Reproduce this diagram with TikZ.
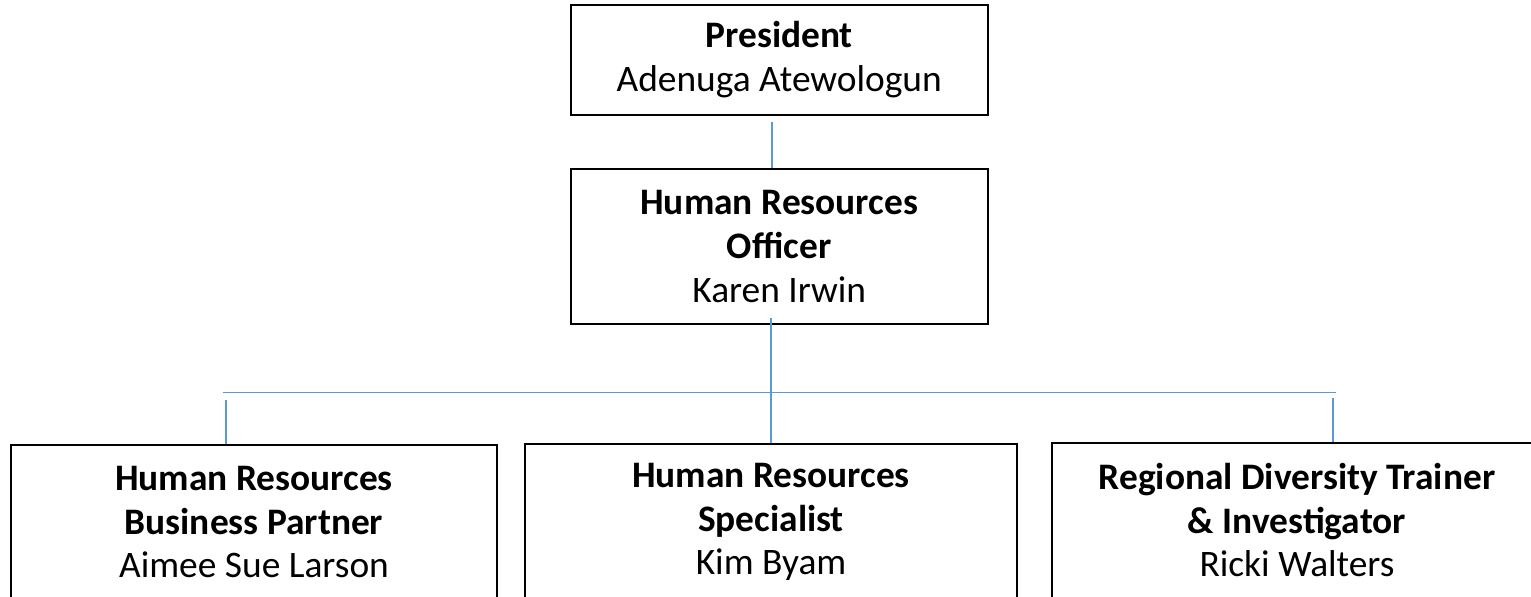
\documentclass[tikz,border=0pt]{standalone}
\usepackage{fontspec}
\setmainfont{Carlito}
\definecolor{linkblue}{HTML}{5B9BD5}
\tikzset{
  orgbox/.style={draw=black, line width=1pt, align=center, inner sep=0pt,
    font=\fontsize{18.7}{21.9}\selectfont},
  link/.style={draw=linkblue, line width=0.8pt}
}
\begin{document}
\begin{tikzpicture}[x=0.5pt, y=-0.5pt]
\useasboundingbox (0,0) rectangle (1531,597);
\clip (0,0) rectangle (1531,597);
\node[orgbox, minimum width=208.5pt, minimum height=55pt] (pres) at (779.2,60)
  {\textbf{President}\\Adenuga Atewologun};
\node[orgbox, minimum width=208.5pt, minimum height=77.5pt] (hro) at (779.2,246.5)
  {\textbf{Human Resources}\\\textbf{Officer}\\Karen Irwin};
\node[orgbox, minimum width=243pt, minimum height=77.5pt] (bp) at (254,522.2)
  {\textbf{Human Resources}\\\textbf{Business Partner}\\Aimee Sue Larson};
\node[orgbox, minimum width=246pt, minimum height=77.5pt] (spec) at (771,522)
  {\textbf{Human Resources}\\\textbf{Specialist}\\Kim Byam};
\node[orgbox, minimum width=245pt, minimum height=77.5pt] (rdt) at (1297,520.2)
  {\textbf{Regional Diversity Trainer}\\\textbf{\& Investigator}\\Ricki Walters};
\coordinate (a1) at (772,122);
\coordinate (a2) at (771,318);
\coordinate (hl) at (222.7,392.5);
\coordinate (hr) at (1336,392.5);
\coordinate (t1) at (226,400);
\coordinate (t3) at (1333,398);
\draw[link] (a1) -- (hro.north -| a1);
\draw[link] (a2) -- (spec.north -| a2);
\draw[link] (hl) -- (hr);
\draw[link] (t1) -- (bp.north -| t1);
\draw[link] (t3) -- (rdt.north -| t3);
\end{tikzpicture}
\end{document}
